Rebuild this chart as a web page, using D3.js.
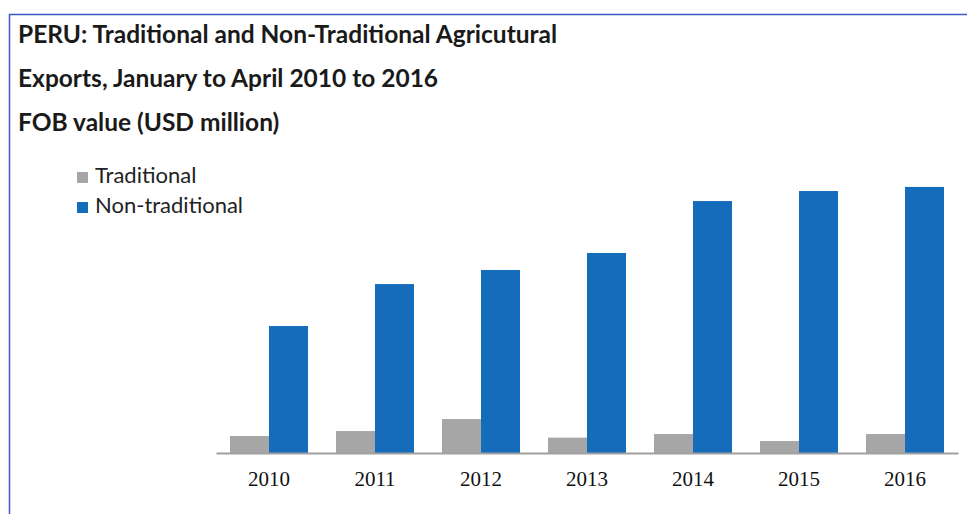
<!DOCTYPE html>
<html>
<head>
<meta charset="utf-8">
<script src="https://cdn.jsdelivr.net/npm/d3@7"></script>
<style>
  body { margin: 0; background: #fff; }
</style>
</head>
<body>
<div id="container"></div>
<script>
// chart data (USD million)
const years = ['2010', '2011', '2012', '2013', '2014', '2015', '2016'];
const traditional = [95, 123, 190, 86, 106, 67, 106];
const nonTraditional = [711, 946, 1025, 1120, 1411, 1467, 1490];
const seriesNames = ['Traditional', 'Non-traditional'];
const titleLines = [
  'PERU: Traditional and Non-Traditional Agricutural',
  'Exports, January to April 2010 to 2016',
  'FOB value (USD million)'
];

const w = 967, h = 514;
const colors = ['#a6a6a6', '#156cbb'];
const baseY = 453;

const svg = d3.select('#container')
  .append('svg')
  .attr('width', w)
  .attr('height', h);

// frame (left + top lines)
svg.append('path')
  .attr('d', 'M9.5,514 L9.5,14.5 L967,14.5')
  .attr('fill', 'none')
  .attr('stroke', '#3b5cc4')
  .attr('stroke-width', 1.5);

svg.selectAll('text.title')
  .data(titleLines)
  .enter()
  .append('text')
  .attr('class', 'title')
  .attr('x', 18)
  .attr('y', (d, i) => 43 + i * 44)
  .attr('font-family', 'Lato, "Open Sans", sans-serif')
  .attr('font-weight', 'bold')
  .attr('font-size', 24.5)
  .attr('fill', '#1a1a1a')
  .text(d => d);

// legend
const legend = svg.selectAll('g.legend')
  .data(seriesNames)
  .enter()
  .append('g')
  .attr('class', 'legend')
  .attr('transform', (d, i) => 'translate(77,' + (172 + i * 30) + ')');
legend.append('rect')
  .attr('width', 11)
  .attr('height', 11)
  .attr('fill', (d, i) => colors[i]);
legend.append('text')
  .attr('x', 18)
  .attr('y', 11)
  .attr('font-family', 'Lato, "Open Sans", sans-serif')
  .attr('font-size', 22)
  .attr('fill', '#222')
  .text(d => d);

const xScale = d3.scaleBand()
  .domain(years)
  .range([216, 958])
  .paddingInner(0.264)
  .paddingOuter(0.132);

const inner = d3.scaleBand()
  .domain([0, 1])
  .range([0, xScale.bandwidth()]);

const yScale = d3.scaleLinear()
  .domain([0, 1500])
  .range([baseY, baseY - 1500 / 5.6]);

const series = [traditional, nonTraditional];

series.forEach((vals, s) => {
  svg.selectAll('rect.s' + s)
    .data(vals)
    .enter()
    .append('rect')
    .attr('class', 's' + s)
    .attr('x', (d, i) => xScale(years[i]) + inner(s))
    .attr('y', d => yScale(d))
    .attr('width', inner.bandwidth())
    .attr('height', d => baseY - yScale(d))
    .attr('fill', colors[s]);
});

const xAxis = d3.axisBottom(xScale).tickSize(0).tickPadding(18);
const gx = svg.append('g')
  .attr('transform', 'translate(0,' + baseY + ')')
  .call(xAxis);
gx.select('.domain')
  .attr('stroke', '#a0a0a0')
  .attr('stroke-width', 2);
gx.selectAll('text')
  .attr('font-family', '"Liberation Serif", "Times New Roman", serif')
  .attr('font-size', 21)
  .attr('fill', '#111');
</script>
</body>
</html>
